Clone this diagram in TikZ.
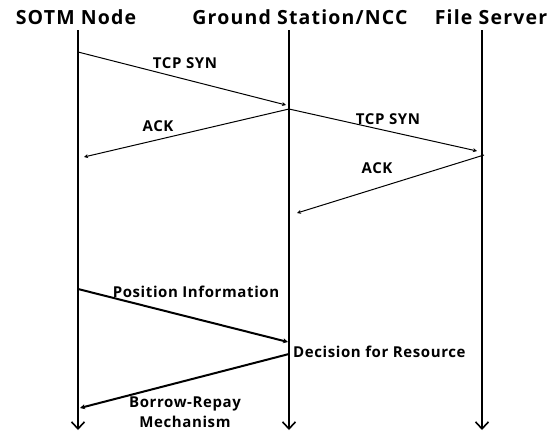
\documentclass[tikz,border=0pt]{standalone}
\usepackage{fontspec}
\setmainfont{Open Sans}
\usetikzlibrary{arrows.meta}

\begin{document}
\begin{tikzpicture}
    [
    x=1pt, y=-1pt,
    entity/.style={font=\bfseries\fontsize{19.5}{22}\selectfont\addfontfeature{LetterSpace=6}, inner sep=0pt},
    msg/.style={font=\bfseries\fontsize{15}{20}\selectfont\addfontfeature{LetterSpace=4}, inner sep=0pt, align=center},
    lifeline/.style={line width=2pt, -{Straight Barb[length=7pt,width=13pt,line width=1.6pt]}},
    call/.style={line width=1pt, -{Stealth[length=4pt,width=4pt]}},
    bigcall/.style={line width=2pt, -{Stealth[length=5pt,width=5pt]}}
    ]
    \useasboundingbox (0,0) rectangle (550,431);
    % the three parties
    \node (sotm) at (76,17) [entity] {SOTM Node};
    \node (gs) at (300,17) [entity] {Ground Station/NCC};
    \node (fs) at (491,17) [entity] {File Server};
    \coordinate (sotm top) at (78,30);
    \coordinate (sotm end) at (78,430);
    \coordinate (gs top) at (289,30);
    \coordinate (gs end) at (289,430);
    \coordinate (fs top) at (482,30);
    \coordinate (fs end) at (482,430);
    \draw [lifeline] (sotm top) to (sotm end);
    \draw [lifeline] (gs top) to (gs end);
    \draw [lifeline] (fs top) to (fs end);
    % handshake
    \coordinate (1a) at (78,52);
    \coordinate (1b) at (286,105);
    \coordinate (2a) at (289,109);
    \coordinate (2b) at (84,157);
    \coordinate (3a) at (289,109);
    \coordinate (3b) at (477,151);
    \coordinate (4a) at (484,155);
    \coordinate (4b) at (297,213);
    \draw [call] (1a) to (1b);
    \draw [call] (2a) to (2b);
    \draw [call] (3a) to (3b);
    \draw [call] (4a) to (4b);
    \node (syn1) at (185,63) [msg] {TCP SYN};
    \node (ack1) at (158,126) [msg] {ACK};
    \node (syn2) at (388,119) [msg] {TCP SYN};
    \node (ack2) at (377,168) [msg] {ACK};
    % resource allocation
    \coordinate (5a) at (78,289);
    \coordinate (5b) at (288,342);
    \coordinate (6a) at (289,354);
    \coordinate (6b) at (80,408);
    \draw [bigcall] (5a) to (5b);
    \draw [bigcall] (6a) to (6b);
    \node (pos) at (196,292) [msg] {Position Information};
    \node (dec) at (293,352) [msg, anchor=west] {Decision for Resource};
    \node (brm) at (185,412) [msg] {Borrow-Repay\\Mechanism};
\end{tikzpicture}
\end{document}
